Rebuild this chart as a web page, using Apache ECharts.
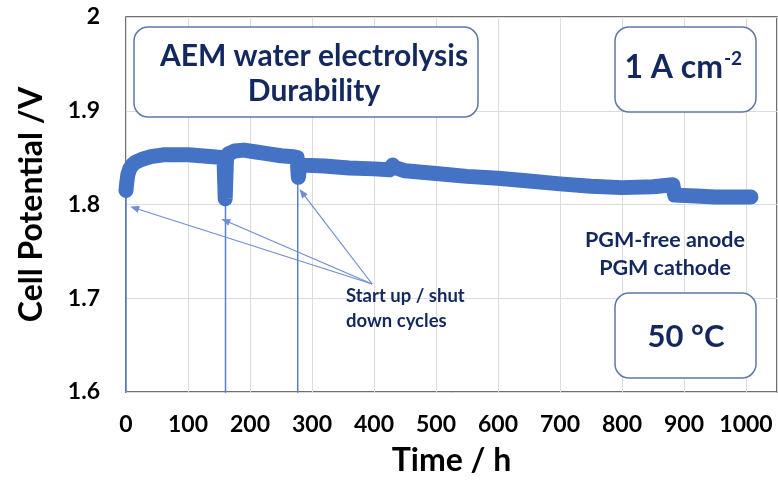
<!DOCTYPE html>
<html>
<head>
<meta charset="utf-8">
<script src="https://cdn.jsdelivr.net/npm/echarts@6/dist/echarts.min.js"></script>
<style>
  html, body { margin: 0; padding: 0; background: #ffffff; }
  #chart { width: 778px; height: 483px; }
</style>
</head>
<body>
<div id="chart"></div>
<script>
// Cell potential during the AEM durability run: time (h) and potential (V)
const timeH = [0, 1, 3, 6, 10, 15, 25, 40, 60, 80, 100, 120, 140, 158,
  160, 162, 165, 175, 190, 210, 230, 250, 270, 276,
  278, 280, 285, 320, 360, 400, 425, 430, 435, 450, 500, 550, 600, 650,
  700, 750, 800, 850, 882, 885, 920, 950, 980, 1008];
const cellV = [1.815, 1.822, 1.832, 1.838, 1.842, 1.845, 1.848, 1.851, 1.853, 1.853, 1.853, 1.852, 1.851, 1.850,
  1.806, 1.848, 1.854, 1.857, 1.858, 1.856, 1.854, 1.852, 1.851, 1.850,
  1.829, 1.840, 1.842, 1.841, 1.839, 1.838, 1.837, 1.842, 1.839, 1.836, 1.833, 1.830, 1.828, 1.825,
  1.822, 1.8195, 1.818, 1.819, 1.821, 1.810, 1.809, 1.808, 1.808, 1.808];

// Start-up / shut-down events: the cell drops to 0 V, then the trace resumes
const cycleTimes = [0, 160.5, 277];
const cycleResumeV = [1.815, 1.806, 1.829];

// Callout arrows: shared origin near the caption, tips at each cycle
const arrowOrigin = [397, 1.7152];
const arrowTips = [[13.7, 1.7963], [160.5, 1.7827], [284.2, 1.8126]];

// Axis ticks
const xTicks = [0, 100, 200, 300, 400, 500, 600, 700, 800, 900, 1000];
const yTicks = [1.6, 1.7, 1.8, 1.9, 2.0];

const NAVY = '#13285f';
const BLUE = '#4472c4';
const BOX = '#5f78a6';
const FONT = 'Lato';

const chart = echarts.init(document.getElementById('chart'), null, { renderer: 'canvas' });

const cycleSeries = cycleTimes.map((t, i) => ({
  type: 'line',
  data: [[t, 1.55], [t, cycleResumeV[i]]],
  showSymbol: false,
  silent: true,
  z: 4,
  lineStyle: { color: '#5a7fcb', width: 1.5 }
}));

const option = {
  animation: false,
  backgroundColor: '#ffffff',
  grid: {
    left: 126, right: 1, top: 17, bottom: 91,
    show: true, borderColor: '#404040', borderWidth: 1.5
  },
  xAxis: {
    type: 'value',
    min: xTicks[0],
    max: 1050,
    interval: xTicks[1] - xTicks[0],
    axisLine: { show: false },
    axisTick: { show: false },
    splitLine: { show: true, lineStyle: { color: '#dcdcdc', width: 1 } },
    axisLabel: {
      showMaxLabel: false,
      formatter: v => String(v),
      margin: 21, color: '#000', fontFamily: FONT, fontWeight: 'bold', fontSize: 23
    },
    name: 'Time / h',
    nameLocation: 'middle',
    nameGap: 53,
    nameTextStyle: { color: '#000', fontFamily: FONT, fontWeight: 'bold', fontSize: 32 }
  },
  yAxis: {
    type: 'value',
    min: yTicks[0],
    max: yTicks[yTicks.length - 1],
    interval: 0.1,
    axisLine: { show: false },
    axisTick: { show: false },
    splitLine: { show: true, lineStyle: { color: '#dcdcdc', width: 1 } },
    axisLabel: {
      margin: 26, color: '#000', fontFamily: FONT, fontWeight: 'bold', fontSize: 23,
      formatter: v => (Math.abs(v - 2) < 1e-9 ? '2' : v.toFixed(1))
    },
    name: 'Cell Potential /V',
    nameLocation: 'middle',
    nameGap: 78,
    nameTextStyle: { color: '#000', fontFamily: FONT, fontWeight: 'bold', fontSize: 32 }
  },
  series: [
    ...cycleSeries,
    {
      type: 'line',
      data: timeH.map((t, i) => [t, cellV[i]]),
      showSymbol: false,
      silent: true,
      z: 5,
      lineStyle: { color: BLUE, width: 15, cap: 'round', join: 'round' },
      markLine: {
        silent: true,
        symbol: ['none', 'triangle'],
        symbolSize: [7, 9],
        label: { show: false },
        emphasis: { disabled: true },
        itemStyle: { color: '#6f8fd0' },
        lineStyle: { color: '#6f8fd0', width: 1.2, type: 'solid' },
        data: arrowTips.map(tip => [{ coord: arrowOrigin }, { coord: tip }])
      }
    }
  ],
  graphic: [
    {
      type: 'rect', z: 10,
      shape: { x: 134, y: 27, width: 344, height: 90, r: 14 },
      style: { fill: '#ffffff', stroke: BOX, lineWidth: 1.5 }
    },
    {
      type: 'text', z: 11, x: 314, y: 74,
      style: {
        text: 'AEM water electrolysis\nDurability',
        align: 'center', verticalAlign: 'middle', lineHeight: 35,
        font: 'bold 30px ' + FONT, fill: NAVY
      }
    },
    {
      type: 'rect', z: 10,
      shape: { x: 615, y: 27, width: 141, height: 85, r: 14 },
      style: { fill: '#ffffff', stroke: BOX, lineWidth: 1.5 }
    },
    {
      type: 'text', z: 11, x: 723, y: 68,
      style: { text: '1 A cm', align: 'right', verticalAlign: 'middle', font: 'bold 32px ' + FONT, fill: NAVY }
    },
    {
      type: 'text', z: 11, x: 724, y: 59,
      style: { text: '-2', align: 'left', verticalAlign: 'middle', font: 'bold 19px ' + FONT, fill: NAVY }
    },
    {
      type: 'text', z: 11, x: 665, y: 254,
      style: {
        text: 'PGM-free anode\nPGM cathode',
        align: 'center', verticalAlign: 'middle', lineHeight: 28,
        font: 'bold 21.5px ' + FONT, fill: NAVY
      }
    },
    {
      type: 'rect', z: 10,
      shape: { x: 615, y: 293, width: 141, height: 85, r: 14 },
      style: { fill: '#ffffff', stroke: BOX, lineWidth: 1.5 }
    },
    {
      type: 'text', z: 11, x: 686, y: 337,
      style: { text: '50 °C', align: 'center', verticalAlign: 'middle', font: 'bold 31px ' + FONT, fill: NAVY }
    },
    {
      type: 'text', z: 11, x: 346, y: 309,
      style: {
        text: 'Start up / shut\ndown cycles',
        align: 'left', verticalAlign: 'middle', lineHeight: 25,
        font: 'bold 18.5px ' + FONT, fill: NAVY
      }
    }
  ]
};

chart.setOption(option);
</script>
</body>
</html>
